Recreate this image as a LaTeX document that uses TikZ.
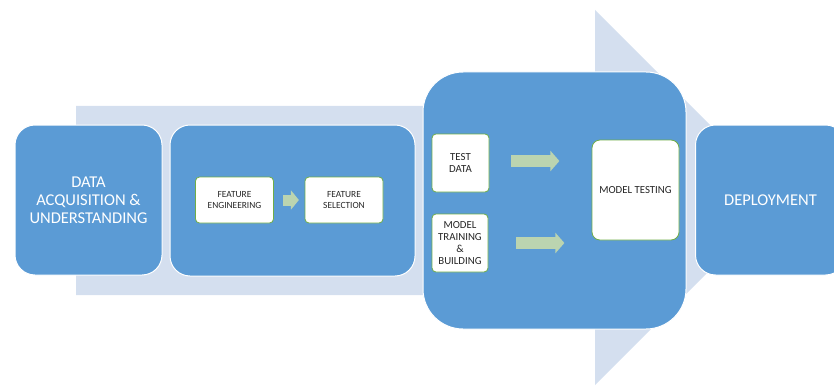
\documentclass[tikz,border=0pt]{standalone}
\usepackage{fontspec}
\setmainfont{Carlito}
\usetikzlibrary{arrows.meta}
\definecolor{stageblue}{RGB}{91,155,213}
\definecolor{flowpale}{RGB}{212,223,239}
\definecolor{taskgreen}{RGB}{112,173,71}
\definecolor{arrowgreen}{RGB}{187,212,176}

\begin{document}
\begin{tikzpicture}[
    x=1pt, y=-1pt,
    stage/.style={draw=white, line width=1pt, fill=stageblue, rounded corners=20pt, text=white, align=center, font=\fontsize{16.5}{18}\selectfont, inner sep=0pt},
    task/.style={draw=taskgreen, line width=0.8pt, fill=white, rounded corners=4pt, align=center, text=black!85, font=\fontsize{9.4}{11.7}\selectfont, inner sep=0pt},
    bigtask/.style={task, font=\fontsize{10.8}{12}\selectfont},
    flow/.style={arrowgreen, line width=12pt, -{Triangle[length=9pt,width=20pt]}}
]
\useasboundingbox (0,0) rectangle (834,385);
\clip (0,0) rectangle (834,385);

% pale background arrow
\fill[flowpale] (76,106) -- (595,106) -- (595,10) -- (782.5,197.5) -- (595,385) -- (595,295) -- (76,295) -- cycle;

% stages
\node[stage, minimum width=147pt, minimum height=150pt] (acq)    at (88.5,200)   {DATA\\ACQUISITION \&\\UNDERSTANDING};
\node[stage, minimum width=245pt, minimum height=151pt] (feat)   at (292.5,200.5) {};
\node[stage, minimum width=263pt, minimum height=257pt, rounded corners=40pt] (model) at (554.5,200.5) {};
\node[stage, minimum width=150pt, minimum height=150pt] (deploy) at (770.5,200)  {DEPLOYMENT};

% tasks
\node[task, minimum width=78pt, minimum height=46pt] (feng)   at (234.5,200) {FEATURE\\ENGINEERING};
\node[task, minimum width=78pt, minimum height=46pt] (fsel)   at (344,200)   {FEATURE\\SELECTION};
\node[bigtask, minimum width=57pt, minimum height=58pt] (tdata)  at (460.5,163) {TEST\\DATA};
\node[bigtask, minimum width=56pt, minimum height=58pt] (mtrain) at (460,243)   {MODEL\\TRAINING\\\&\\BUILDING};
\node[bigtask, minimum width=87pt, minimum height=100pt, rounded corners=8pt] (mtest) at (635.5,190) {MODEL TESTING};

% green arrows
\draw[flow, line width=11pt, -{Triangle[length=8pt,width=19pt]}] (feng.east) ++(9,0) -- ++(16,0);
\draw[flow] (tdata.east) ++(22,-2) -- ++(48,0);
\draw[flow] (mtrain.east) ++(28,0) -- ++(48,0);
\end{tikzpicture}
\end{document}
